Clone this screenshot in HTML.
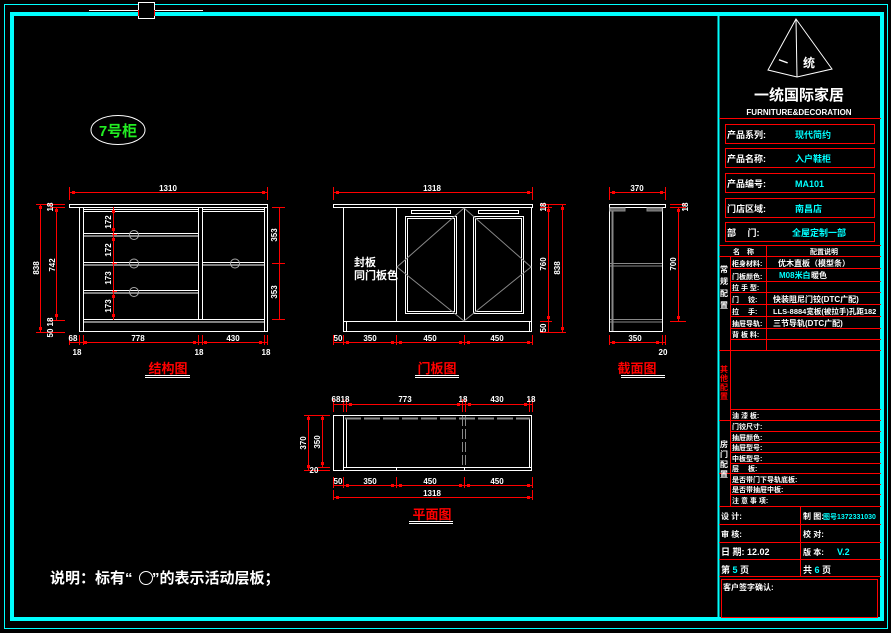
<!DOCTYPE html>
<html><head><meta charset="utf-8"><style>
html,body{margin:0;padding:0;background:#000;}
svg{display:block;}
text{font-family:"Liberation Sans","Noto Sans CJK SC",sans-serif;}
.w{fill:#fff}.c{fill:#00ffff}.r{fill:#ff0000}
.cj{font-family:"Liberation Sans","Noto Sans CJK SC",sans-serif;font-weight:bold}
</style></head><body>
<svg width="891" height="633" viewBox="0 0 891 633" xmlns="http://www.w3.org/2000/svg">
<rect width="891" height="633" fill="#000"/>
<!-- frames -->
<rect x="4.5" y="4.5" width="883" height="624" fill="none" stroke="#00ffff" stroke-width="1"/>
<rect x="12" y="14" width="870" height="605" fill="none" stroke="#00ffff" stroke-width="4"/>
<line x1="718.5" y1="14" x2="718.5" y2="619" stroke="#00ffff" stroke-width="2"/>
<line x1="89" y1="10.5" x2="203" y2="10.5" stroke="#fff"/>
<rect x="138.5" y="2.5" width="16" height="16" fill="#000" stroke="#fff"/>
<line x1="138.5" y1="10" x2="138.5" y2="16" stroke="#f00"/><line x1="154.5" y1="10" x2="154.5" y2="16" stroke="#f00"/>

<!-- 7号柜 -->
<ellipse cx="118" cy="130" rx="27" ry="14.5" fill="none" stroke="#fff"/>
<text x="118" y="136" text-anchor="middle" font-size="15" class="cj" fill="#22ee22">7号柜</text>

<g stroke="#fff" fill="none" stroke-width="1">
<rect x="69.5" y="204.5" width="198" height="3"/>
<rect x="79.5" y="207.5" width="188" height="124"/>
<line x1="83.5" y1="208" x2="83.5" y2="332"/><line x1="264.5" y1="208" x2="264.5" y2="332"/>
<line x1="198.5" y1="208" x2="198.5" y2="319"/><line x1="202.5" y1="208" x2="202.5" y2="319"/>
<line x1="83" y1="209.5" x2="198" y2="209.5"/><line x1="202" y1="209.5" x2="264" y2="209.5"/>
<line x1="83" y1="211.5" x2="198" y2="211.5"/><line x1="202" y1="211.5" x2="264" y2="211.5"/>
<rect x="83.5" y="233.5" width="115" height="2.5"/>
<rect x="83.5" y="262.5" width="115" height="2.5"/>
<rect x="202.5" y="262.5" width="62" height="2.5"/>
<rect x="83.5" y="290.5" width="115" height="2.5"/>
<rect x="83.5" y="319.5" width="181" height="2.5"/>
<rect x="333.5" y="204.5" width="199" height="3"/>
<rect x="343.5" y="207.5" width="188" height="124"/>
<line x1="396.5" y1="208" x2="396.5" y2="321"/><line x1="464.5" y1="208" x2="464.5" y2="321"/>
<line x1="343" y1="321.5" x2="532" y2="321.5"/>
<line x1="346.5" y1="322" x2="346.5" y2="332"/><line x1="529.5" y1="322" x2="529.5" y2="332"/>
<rect x="405.5" y="216.5" width="51" height="97"/><rect x="407.5" y="218.5" width="47" height="93"/>
<rect x="473.5" y="216.5" width="50" height="97"/><rect x="475.5" y="218.5" width="46" height="93"/>
<rect x="411.5" y="210.5" width="39" height="3"/><rect x="478.5" y="210.5" width="40" height="3"/>
<rect x="609.5" y="204.5" width="56" height="3"/>
<rect x="609.5" y="207.5" width="53" height="124"/>
<rect x="333.5" y="415.5" width="198" height="55"/>
<line x1="343.5" y1="416" x2="343.5" y2="470"/><line x1="346.5" y1="418" x2="346.5" y2="467"/>
<line x1="529.5" y1="418" x2="529.5" y2="467"/>
<line x1="343" y1="467.5" x2="532" y2="467.5"/>
<line x1="396.5" y1="467" x2="396.5" y2="470"/><line x1="464.5" y1="467" x2="464.5" y2="470"/>
</g>
<g stroke="#aaa" fill="none">
<circle cx="134" cy="235" r="4.5"/><circle cx="134" cy="263.5" r="4.5"/><circle cx="134" cy="292" r="4.5"/><circle cx="235" cy="263.5" r="4.5"/>
</g>
<g stroke="#888" fill="none">
<polyline points="464,208 397,267 464,321"/><polyline points="464,208 531,267 464,321"/>
<line x1="612.5" y1="209" x2="612.5" y2="331" stroke-width="2"/>
<line x1="610" y1="263.5" x2="662" y2="263.5"/><line x1="610" y1="266" x2="662" y2="266"/>
<line x1="610" y1="319.5" x2="662" y2="319.5"/><line x1="610" y1="322" x2="662" y2="322"/>
<rect x="610" y="208" width="15" height="3" fill="#666"/><rect x="647" y="208" width="15" height="3" fill="#666"/>
<line x1="345" y1="418.5" x2="530" y2="418.5" stroke-width="2" stroke-dasharray="16,3"/>
<line x1="462.5" y1="416" x2="462.5" y2="467" stroke-dasharray="10,3"/><line x1="465.5" y1="416" x2="465.5" y2="467" stroke-dasharray="10,3"/>
</g>

<g stroke="#ff0000" fill="none" stroke-width="1">
<line x1="69" y1="192.5" x2="267" y2="192.5"/><line x1="69.5" y1="187" x2="69.5" y2="200"/><line x1="267.5" y1="187" x2="267.5" y2="200"/>
<line x1="40.5" y1="204" x2="40.5" y2="332"/><line x1="56.5" y1="207" x2="56.5" y2="320"/>
<line x1="36" y1="204.5" x2="65" y2="204.5"/><line x1="50" y1="207.5" x2="65" y2="207.5"/>
<line x1="50" y1="320.5" x2="65" y2="320.5"/><line x1="36" y1="332.5" x2="65" y2="332.5"/>
<line x1="113.5" y1="207" x2="113.5" y2="320"/>
<line x1="112" y1="234.5" x2="117" y2="234.5"/><line x1="112" y1="263.5" x2="117" y2="263.5"/><line x1="112" y1="291.5" x2="117" y2="291.5"/>
<line x1="279.5" y1="207" x2="279.5" y2="320"/><line x1="272" y1="207.5" x2="285" y2="207.5"/><line x1="272" y1="263.5" x2="285" y2="263.5"/><line x1="272" y1="319.5" x2="285" y2="319.5"/>
<line x1="69" y1="342.5" x2="268" y2="342.5"/>
<line x1="69.5" y1="335" x2="69.5" y2="345"/><line x1="79.5" y1="335" x2="79.5" y2="345"/><line x1="83.5" y1="335" x2="83.5" y2="345"/><line x1="198.5" y1="335" x2="198.5" y2="345"/><line x1="202.5" y1="335" x2="202.5" y2="345"/><line x1="264.5" y1="335" x2="264.5" y2="345"/><line x1="267.5" y1="335" x2="267.5" y2="345"/>
<line x1="333" y1="192.5" x2="532" y2="192.5"/><line x1="333.5" y1="187" x2="333.5" y2="200"/><line x1="532.5" y1="187" x2="532.5" y2="200"/>
<line x1="548.5" y1="204" x2="548.5" y2="332"/><line x1="562.5" y1="204" x2="562.5" y2="332"/>
<line x1="540" y1="204.5" x2="566" y2="204.5"/><line x1="540" y1="207.5" x2="552" y2="207.5"/><line x1="540" y1="321.5" x2="552" y2="321.5"/><line x1="540" y1="332.5" x2="566" y2="332.5"/>
<line x1="333" y1="342.5" x2="532" y2="342.5"/>
<line x1="333.5" y1="335" x2="333.5" y2="345"/><line x1="343.5" y1="335" x2="343.5" y2="345"/><line x1="396.5" y1="335" x2="396.5" y2="345"/><line x1="464.5" y1="335" x2="464.5" y2="345"/><line x1="532.5" y1="335" x2="532.5" y2="345"/>
<line x1="609" y1="192.5" x2="665" y2="192.5"/><line x1="609.5" y1="187" x2="609.5" y2="200"/><line x1="665.5" y1="187" x2="665.5" y2="200"/>
<line x1="678.5" y1="207" x2="678.5" y2="322"/><line x1="670" y1="204.5" x2="686" y2="204.5"/><line x1="670" y1="207.5" x2="686" y2="207.5"/><line x1="670" y1="321.5" x2="686" y2="321.5"/>
<line x1="609" y1="342.5" x2="665" y2="342.5"/><line x1="609.5" y1="335" x2="609.5" y2="345"/><line x1="662.5" y1="335" x2="662.5" y2="345"/><line x1="665.5" y1="335" x2="665.5" y2="345"/>
<line x1="333" y1="404.5" x2="532" y2="404.5"/>
<line x1="333.5" y1="399" x2="333.5" y2="412"/><line x1="343.5" y1="399" x2="343.5" y2="412"/><line x1="346.5" y1="399" x2="346.5" y2="412"/><line x1="462.5" y1="399" x2="462.5" y2="412"/><line x1="465.5" y1="399" x2="465.5" y2="412"/><line x1="529.5" y1="399" x2="529.5" y2="412"/><line x1="532.5" y1="399" x2="532.5" y2="412"/>
<line x1="308.5" y1="415" x2="308.5" y2="470"/><line x1="322.5" y1="415" x2="322.5" y2="467"/>
<line x1="304" y1="415.5" x2="330" y2="415.5"/><line x1="318" y1="467.5" x2="330" y2="467.5"/><line x1="304" y1="470.5" x2="330" y2="470.5"/>
<line x1="333" y1="485.5" x2="532" y2="485.5"/>
<line x1="333.5" y1="477" x2="333.5" y2="488"/><line x1="343.5" y1="477" x2="343.5" y2="488"/><line x1="396.5" y1="477" x2="396.5" y2="488"/><line x1="464.5" y1="477" x2="464.5" y2="488"/><line x1="532.5" y1="477" x2="532.5" y2="488"/>
<line x1="333" y1="497.5" x2="532" y2="497.5"/><line x1="333.5" y1="490" x2="333.5" y2="500"/><line x1="532.5" y1="490" x2="532.5" y2="500"/>
</g>
<g fill="#ff0000">
<rect x="72" y="191" width="3" height="3"/><rect x="262" y="191" width="3" height="3"/>
<rect x="39" y="206" width="3" height="3"/><rect x="39" y="327" width="3" height="3"/><rect x="55" y="209" width="3" height="3"/><rect x="55" y="314" width="3" height="3"/>
<rect x="112" y="210" width="3" height="3"/><rect x="112" y="228" width="3" height="3"/><rect x="112" y="238" width="3" height="3"/><rect x="112" y="295" width="3" height="3"/><rect x="112" y="314" width="3" height="3"/>
<rect x="84" y="341" width="3" height="3"/><rect x="193" y="341" width="3" height="3"/><rect x="204" y="341" width="3" height="3"/><rect x="259" y="341" width="3" height="3"/>
<rect x="336" y="191" width="3" height="3"/><rect x="527" y="191" width="3" height="3"/>
<rect x="547" y="209" width="3" height="3"/><rect x="547" y="316" width="3" height="3"/><rect x="561" y="207" width="3" height="3"/><rect x="561" y="327" width="3" height="3"/>
<rect x="346" y="341" width="3" height="3"/><rect x="391" y="341" width="3" height="3"/><rect x="399" y="341" width="3" height="3"/><rect x="459" y="341" width="3" height="3"/><rect x="467" y="341" width="3" height="3"/><rect x="527" y="341" width="3" height="3"/>
<rect x="612" y="191" width="3" height="3"/><rect x="660" y="191" width="3" height="3"/><rect x="677" y="209" width="3" height="3"/><rect x="677" y="316" width="3" height="3"/>
<rect x="612" y="341" width="3" height="3"/><rect x="656" y="341" width="3" height="3"/>
<rect x="349" y="403" width="3" height="3"/><rect x="457" y="403" width="3" height="3"/><rect x="468" y="403" width="3" height="3"/><rect x="524" y="403" width="3" height="3"/>
<rect x="307" y="417" width="3" height="3"/><rect x="307" y="465" width="3" height="3"/><rect x="321" y="417" width="3" height="3"/><rect x="321" y="462" width="3" height="3"/>
<rect x="346" y="484" width="3" height="3"/><rect x="391" y="484" width="3" height="3"/><rect x="399" y="484" width="3" height="3"/><rect x="459" y="484" width="3" height="3"/><rect x="467" y="484" width="3" height="3"/><rect x="527" y="484" width="3" height="3"/>
<rect x="336" y="496" width="3" height="3"/><rect x="527" y="496" width="3" height="3"/>
</g>

<g class="w" font-size="8" font-weight="bold" text-anchor="middle">
<text x="168" y="191">1310</text>
<text x="73" y="341">68</text><text x="138" y="341">778</text><text x="233" y="341">430</text>
<text x="77" y="355">18</text><text x="199" y="355">18</text><text x="266" y="355">18</text>
<text transform="translate(39,268) rotate(-90)">838</text>
<text transform="translate(55,265) rotate(-90)">742</text>
<text transform="translate(53,207) rotate(-90)">18</text>
<text transform="translate(53,322) rotate(-90)">18</text>
<text transform="translate(53,333) rotate(-90)">50</text>
<text transform="translate(111,222) rotate(-90)">172</text>
<text transform="translate(111,250) rotate(-90)">172</text>
<text transform="translate(111,278) rotate(-90)">173</text>
<text transform="translate(111,306) rotate(-90)">173</text>
<text transform="translate(277,235) rotate(-90)">353</text>
<text transform="translate(277,292) rotate(-90)">353</text>
<text x="432" y="191">1318</text>
<text x="338" y="341">50</text><text x="370" y="341">350</text><text x="430" y="341">450</text><text x="497" y="341">450</text>
<text transform="translate(546,207) rotate(-90)">18</text>
<text transform="translate(546,264) rotate(-90)">760</text>
<text transform="translate(560,268) rotate(-90)">838</text>
<text transform="translate(546,328) rotate(-90)">50</text>
<text x="637" y="191">370</text>
<text transform="translate(676,264) rotate(-90)">700</text>
<text transform="translate(688,207) rotate(-90)">18</text>
<text x="635" y="341">350</text><text x="663" y="355">20</text>
<text x="336" y="402">68</text><text x="345" y="402">18</text><text x="405" y="402">773</text><text x="463" y="402">18</text><text x="497" y="402">430</text><text x="531" y="402">18</text>
<text transform="translate(306,443) rotate(-90)">370</text>
<text transform="translate(320,442) rotate(-90)">350</text>
<text x="314" y="473">20</text>
<text x="338" y="484">50</text><text x="370" y="484">350</text><text x="430" y="484">450</text><text x="497" y="484">450</text>
<text x="432" y="496">1318</text>
</g>
<text x="354" y="266" class="w cj" font-size="11">封板</text>
<text x="354" y="279" class="w cj" font-size="11">同门板色</text>

<g class="r cj" font-size="13" text-anchor="middle">
<text x="168" y="373">结构图</text><text x="437" y="373">门板图</text><text x="637" y="373">截面图</text><text x="432" y="519">平面图</text>
</g>
<g stroke="#fff">
<line x1="145" y1="375.5" x2="190" y2="375.5"/><line x1="145" y1="377.5" x2="190" y2="377.5"/>
<line x1="415" y1="375.5" x2="459" y2="375.5"/><line x1="415" y1="377.5" x2="459" y2="377.5"/>
<line x1="621" y1="375.5" x2="665" y2="375.5"/><line x1="621" y1="377.5" x2="665" y2="377.5"/>
<line x1="409" y1="521.5" x2="453" y2="521.5"/><line x1="409" y1="523.5" x2="453" y2="523.5"/>
</g>

<text x="50" y="583" class="w cj" font-size="15">说明：标有“</text>
<circle cx="146" cy="578" r="6.5" fill="none" stroke="#fff"/>
<text x="152" y="583" class="w cj" font-size="15">”的表示活动层板；</text>

<g stroke="#fff" fill="none">
<polygon points="796,19 768,70 797,77 832,69"/><line x1="796" y1="19" x2="797" y2="77"/>
</g>
<text transform="translate(782,65) rotate(20)" class="w cj" font-size="10" text-anchor="middle">一</text>
<text x="809" y="67" class="w cj" font-size="12" text-anchor="middle">统</text>
<text x="799" y="100" class="w cj" font-size="15" text-anchor="middle">一统国际家居</text>
<text x="799" y="115" class="w" font-size="8" font-weight="bold" text-anchor="middle">FURNITURE&amp;DECORATION</text>
<g stroke="#ff0000" fill="none">
<line x1="719" y1="118.5" x2="881" y2="118.5"/>
<rect x="725.5" y="124.5" width="149" height="19"/>
<rect x="725.5" y="148.5" width="149" height="19"/>
<rect x="725.5" y="173.5" width="149" height="19"/>
<rect x="725.5" y="198.5" width="149" height="19"/>
<rect x="725.5" y="222.5" width="149" height="19"/>
<line x1="719" y1="245.5" x2="881" y2="245.5"/>
<line x1="719" y1="256.5" x2="881" y2="256.5"/>
<line x1="766.5" y1="245" x2="766.5" y2="350"/>
<line x1="730.5" y1="256" x2="730.5" y2="506"/>
<line x1="730" y1="268.5" x2="881" y2="268.5"/><line x1="730" y1="281.5" x2="881" y2="281.5"/><line x1="730" y1="292.5" x2="881" y2="292.5"/><line x1="730" y1="304.5" x2="881" y2="304.5"/><line x1="730" y1="316.5" x2="881" y2="316.5"/><line x1="730" y1="328.5" x2="881" y2="328.5"/><line x1="730" y1="339.5" x2="881" y2="339.5"/>
<line x1="719" y1="350.5" x2="881" y2="350.5"/>
<line x1="730" y1="409.5" x2="881" y2="409.5"/>
<line x1="719" y1="420.5" x2="881" y2="420.5"/>
<line x1="730" y1="431.5" x2="881" y2="431.5"/><line x1="730" y1="442.5" x2="881" y2="442.5"/><line x1="730" y1="452.5" x2="881" y2="452.5"/><line x1="730" y1="463.5" x2="881" y2="463.5"/>
<line x1="719" y1="473.5" x2="881" y2="473.5"/>
<line x1="730" y1="484.5" x2="881" y2="484.5"/><line x1="730" y1="494.5" x2="881" y2="494.5"/>
<line x1="719" y1="506.5" x2="881" y2="506.5"/><line x1="719" y1="524.5" x2="881" y2="524.5"/><line x1="719" y1="542.5" x2="881" y2="542.5"/><line x1="719" y1="559.5" x2="881" y2="559.5"/><line x1="719" y1="576.5" x2="881" y2="576.5"/>
<line x1="800.5" y1="506" x2="800.5" y2="576"/>
<rect x="721.5" y="579.5" width="156" height="38"/>
</g>
<g class="cj" font-size="9">
<text x="727" y="138" class="w">产品系列:</text><text x="795" y="138" class="c">现代简约</text>
<text x="727" y="162" class="w">产品名称:</text><text x="795" y="162" class="c">入户鞋柜</text>
<text x="727" y="187" class="w">产品编号:</text><text x="795" y="187" class="c">MA101</text>
<text x="727" y="212" class="w">门店区域:</text><text x="795" y="212" class="c">南昌店</text>
<text x="727" y="236" class="w">部　 门:</text><text x="792" y="236" class="c">全屋定制一部</text>
</g>
<g class="w cj" font-size="7">
<text x="733" y="254">名　称</text><text x="810" y="254">配置说明</text>
<text x="732" y="266">柜身材料:</text><text x="778" y="266" font-size="8">优木直板（模型条）</text>
<text x="732" y="279">门板颜色:</text><text x="779" y="278" font-size="8" class="c">M08米白</text><text x="811" y="278" font-size="8">暖色</text>
<text x="732" y="290">拉 手 型:</text>
<text x="732" y="302">门　 铰:</text><text x="773" y="302" font-size="8">快装阻尼门铰(DTC广配)</text>
<text x="732" y="314">拉　 手:</text><text x="773" y="314" font-size="7.5">LLS-8884宽板(被拉手)孔距182</text>
<text x="732" y="326">抽屉导轨:</text><text x="773" y="326" font-size="8">三节导轨(DTC广配)</text>
<text x="732" y="337">背 板 料:</text>
<text x="732" y="418">油 漆 板:</text>
<text x="732" y="429">门铰尺寸:</text><text x="732" y="440">抽屉颜色:</text><text x="732" y="450">抽屉型号:</text><text x="732" y="461">中板型号:</text><text x="732" y="471">层　 板:</text>
<text x="732" y="482">是否带门下导轨底板:</text><text x="732" y="492">是否带抽屉中板:</text><text x="732" y="503">注 意 事 项:</text>
</g>
<g class="w cj" font-size="8" text-anchor="middle">
<text x="724" y="272">常</text><text x="724" y="284">规</text><text x="724" y="296">配</text><text x="724" y="308">置</text>
<text x="724" y="447">房</text><text x="724" y="457">门</text><text x="724" y="467">配</text><text x="724" y="477">置</text>
</g>
<g class="r cj" font-size="8" text-anchor="middle">
<text x="724" y="372">其</text><text x="724" y="381">他</text><text x="724" y="390">配</text><text x="724" y="399">置</text>
</g>
<g class="cj" font-size="8">
<text x="721" y="519" class="w">设 计:</text><text x="803" y="519" class="w">制 图:</text><text x="823" y="519" class="c" font-size="7">图号1372331030</text>
<text x="721" y="537" class="w">审 核:</text><text x="803" y="537" class="w">校 对:</text>
<text x="721" y="555" class="w" font-size="9">日 期: 12.02</text><text x="803" y="555" class="w">版 本:</text><text x="837" y="555" class="c" font-size="9">V.2</text>
<text x="721" y="573" class="w" font-size="9">第 <tspan class="c">5</tspan> 页</text><text x="803" y="573" class="w" font-size="9">共 <tspan class="c">6</tspan> 页</text>
<text x="723" y="590" class="w">客户签字确认:</text>
</g>
</svg>
</body></html>
